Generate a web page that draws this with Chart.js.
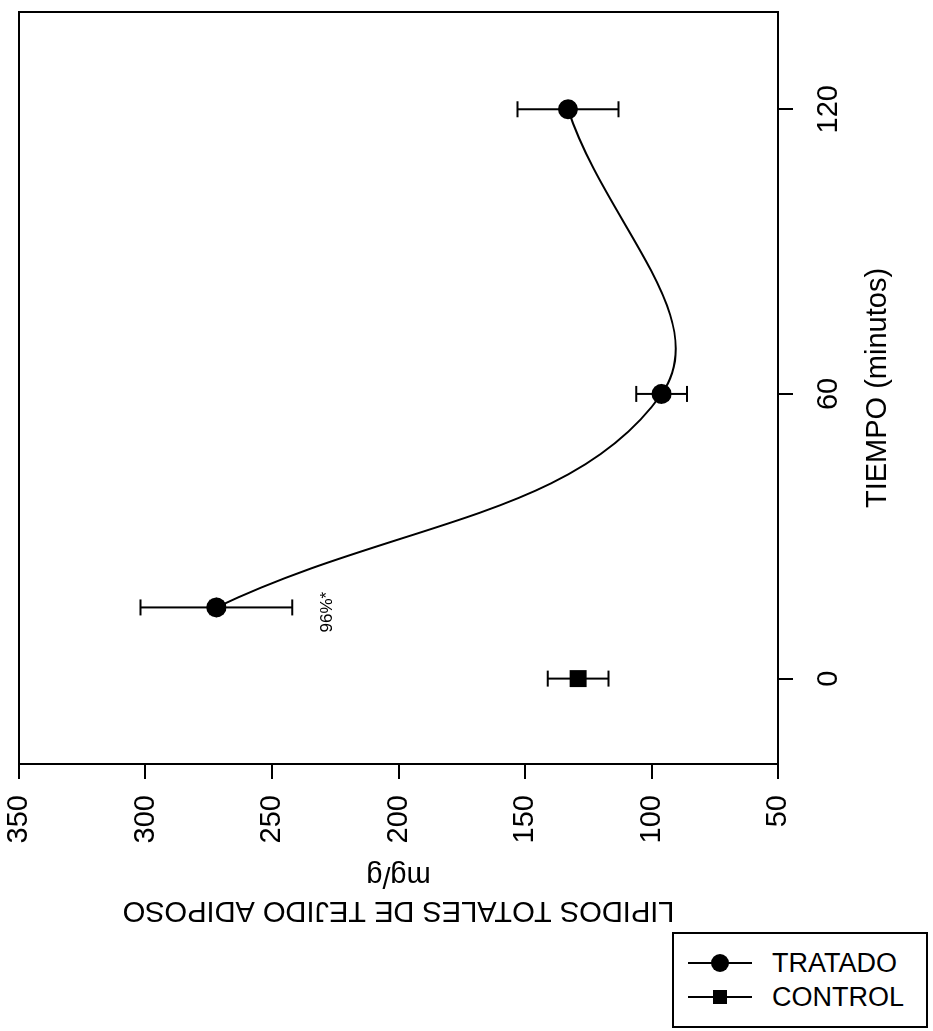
<!DOCTYPE html>
<html>
<head>
<meta charset="utf-8">
<script src="https://cdn.jsdelivr.net/npm/chart.js@4.4.0/dist/chart.umd.min.js"></script>
<style>
    html, body { margin: 0; padding: 0; background: #fff; overflow: hidden; }
    #page { position: relative; width: 933px; height: 1031px; }
    /* the figure is printed turned a quarter turn to the left */
    #rot {
        position: absolute; left: 0; top: 0;
        width: 930px; height: 933px;
        transform-origin: 0 0;
        transform: translate(0px, 930px) rotate(-90deg);
    }
    #legend {
        position: absolute; left: 672px; top: 932px;
        width: 256px; height: 96px;
        box-sizing: border-box; border: 2px solid #000; background: #fff;
        font: 27px 'Liberation Sans', Arial, sans-serif; color: #000;
    }
    .entry { position: absolute; left: 0; height: 34px; display: flex; align-items: center; }
    .key { position: relative; width: 64px; height: 34px; margin-left: 14px; margin-right: 20px; }
    .key::before { content: ''; position: absolute; left: 0; right: 0; top: 16px; border-top: 2px solid #000; }
    .mark { position: absolute; left: 50%; top: 50%; transform: translate(-50%, -50%); background: #000; }
</style>
</head>
<body>
<div id="page">
    <div id="rot"><canvas id="lipChart" width="930" height="933"></canvas></div>
    <div id="legend"></div>
</div>
<script>
// data
const seriesNames = ['TRATADO', 'CONTROL'];
const timeTratado = [15, 60, 120];
const lipTratado = [272, 96, 133];
const errTratado = [30, 10, 20];
const timeControl = [0];
const lipControl = [129];
const errControl = [12];

const timeTicks = [0, 60, 120];
const lipTicks = [50, 100, 150, 200, 250, 300, 350];

const noteText = '96%*';
const noteTime = 14;
const noteLip = 228;

const FONT = "'Liberation Sans', Arial, sans-serif";
Chart.defaults.font.family = FONT;
Chart.defaults.color = '#000';

function toPoints(xs, ys) {
    return xs.map((x, i) => ({ x: x, y: ys[i] }));
}

// fixed axis sizes, no extra room for the end labels
function fixAxis(s, size) {
    if (s.isHorizontal()) s.height = size; else s.width = size;
    s.paddingTop = 0; s.paddingBottom = 0;
    s.paddingLeft = 0; s.paddingRight = 0;
}

// vertical error bars with caps, drawn behind the markers
const errorBars = {
    id: 'errorBars',
    beforeDatasetsDraw(chart) {
        const { ctx, scales: { x, y } } = chart;
        ctx.save();
        ctx.strokeStyle = '#000';
        ctx.lineWidth = 2;
        chart.data.datasets.forEach(ds => {
            ds.data.forEach((p, i) => {
                const e = ds.errors[i];
                const px = x.getPixelForValue(p.x);
                const hi = y.getPixelForValue(p.y + e);
                const lo = y.getPixelForValue(p.y - e);
                ctx.beginPath();
                ctx.moveTo(px, hi); ctx.lineTo(px, lo);
                ctx.moveTo(px - 8, hi); ctx.lineTo(px + 8, hi);
                ctx.moveTo(px - 8, lo); ctx.lineTo(px + 8, lo);
                ctx.stroke();
            });
        });
        ctx.restore();
    }
};

// box round the plot and the small note
const frameAndNote = {
    id: 'frameAndNote',
    afterDatasetsDraw(chart) {
        const { ctx, chartArea: a, scales: { x, y } } = chart;
        ctx.save();
        ctx.strokeStyle = '#000';
        ctx.lineWidth = 2;
        ctx.strokeRect(a.left, a.top, a.right - a.left, a.bottom - a.top);
        ctx.fillStyle = '#000';
        ctx.font = '17px ' + FONT;
        ctx.textAlign = 'center';
        ctx.textBaseline = 'middle';
        ctx.fillText(noteText, x.getPixelForValue(noteTime), y.getPixelForValue(noteLip));
        ctx.restore();
    }
};

const ctx = document.getElementById('lipChart').getContext('2d');
const chart = new Chart(ctx, {
    type: 'line',
    data: {
        datasets: [{
            label: seriesNames[0],
            data: toPoints(timeTratado, lipTratado),
            errors: errTratado,
            borderColor: '#000',
            backgroundColor: '#000',
            borderWidth: 2,
            tension: 0.4,
            pointStyle: 'circle',
            pointRadius: 10,
            pointBorderWidth: 0
        }, {
            label: seriesNames[1],
            data: toPoints(timeControl, lipControl),
            errors: errControl,
            borderColor: '#000',
            backgroundColor: '#000',
            showLine: false,
            pointStyle: 'rect',
            pointRadius: 12,
            pointBorderWidth: 0
        }]
    },
    options: {
        responsive: false,
        animation: false,
        layout: { padding: { top: 19, right: 6, bottom: 0, left: 0 } },
        scales: {
            x: {
                type: 'linear',
                position: 'bottom',
                min: -18,
                max: 140.5,
                afterBuildTicks: s => { s.ticks = timeTicks.map(v => ({ value: v })); },
                afterFit: s => fixAxis(s, 155),
                ticks: { font: { size: 29 }, padding: 19, maxRotation: 0, color: '#000' },
                grid: { drawOnChartArea: false, drawTicks: true, tickLength: 15, color: '#000', lineWidth: 2 },
                border: { color: '#000', width: 2 },
                title: {
                    display: true,
                    text: 'TIEMPO (minutos)',
                    font: { size: 29 },
                    padding: { top: 0, bottom: 38 },
                    color: '#000'
                }
            },
            y: {
                type: 'linear',
                position: 'left',
                min: 50,
                max: 350,
                afterBuildTicks: s => { s.ticks = lipTicks.map(v => ({ value: v })); },
                afterFit: s => fixAxis(s, 166),
                ticks: { font: { size: 29 }, padding: 16, color: '#000' },
                grid: { drawOnChartArea: false, drawTicks: true, tickLength: 15, color: '#000', lineWidth: 2 },
                border: { color: '#000', width: 2 },
                title: {
                    display: true,
                    text: ['LIPIDOS TOTALES DE TEJIDO ADIPOSO', 'mg/g'],
                    font: { size: 29 },
                    padding: { top: 3, bottom: 0 },
                    color: '#000'
                }
            }
        },
        plugins: {
            legend: { display: false },
            tooltip: { enabled: false }
        }
    },
    plugins: [errorBars, frameAndNote]
});

// legend sits upright below the turned figure
const legendBox = document.getElementById('legend');
chart.data.datasets.forEach((ds, i) => {
    const size = ds.pointStyle === 'rect' ? 14 : 18;
    const round = ds.pointStyle === 'rect' ? '0' : '50%';
    const entry = document.createElement('div');
    entry.className = 'entry';
    entry.style.top = (12 + i * 34) + 'px';
    entry.innerHTML = `
        <span class="key"><span class="mark" style="width:${size}px;height:${size}px;border-radius:${round}"></span></span>
        <span>${ds.label}</span>`;
    legendBox.appendChild(entry);
});
</script>
</body>
</html>
